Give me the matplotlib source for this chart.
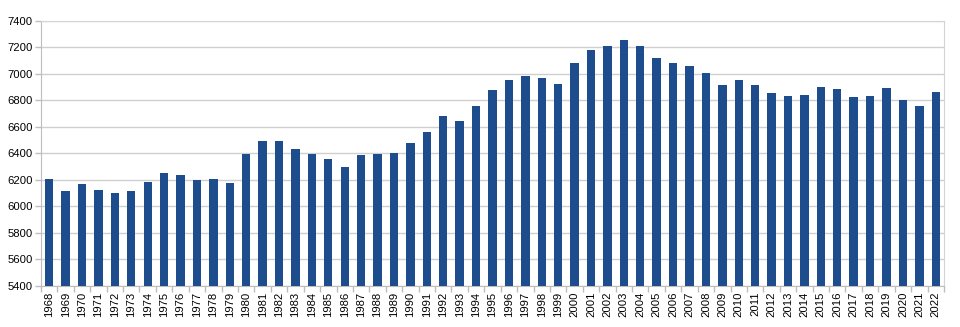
import matplotlib
matplotlib.use("Agg")
import matplotlib.pyplot as plt
import numpy as np

years = list(range(1968, 2023))
values = [
    6205, 6120, 6170, 6127, 6100, 6120, 6182, 6255, 6238, 6197,
    6205, 6177, 6396, 6494, 6492, 6436, 6396, 6361, 6298, 6391,
    6394, 6401, 6482, 6562, 6680, 6645, 6758, 6879, 6957, 6982,
    6967, 6922, 7080, 7181, 7209, 7257, 7214, 7121, 7083, 7060,
    7005, 6917, 6952, 6917, 6859, 6831, 6839, 6899, 6884, 6824,
    6831, 6892, 6806, 6756, 6867,
]
y_ticks = [5400, 5600, 5800, 6000, 6200, 6400, 6600, 6800, 7000, 7200, 7400]

plt.rcParams['font.family'] = ['Liberation Sans', 'DejaVu Sans']

fig = plt.figure(figsize=(9.6, 3.27), dpi=100)
ax = fig.add_axes([0.0427, 0.1254, 0.9406, 0.8104])

x = np.arange(len(years))
ax.bar(x, np.array(values) - 5400, bottom=5400, width=0.51, color='#1e4d8e', zorder=3)

ax.set_ylim(5400, 7400)
ax.set_xlim(-0.5, len(years) - 0.5)
ax.set_yticks(y_ticks)
ax.set_yticklabels([str(v) for v in y_ticks], fontsize=8.1)
ax.yaxis.grid(True, color='#cfcfcf', linewidth=1.0, zorder=0)

ax.set_xticks(x)
ax.set_xticklabels([str(y) for y in years], rotation=90, fontsize=8.1)
ax.tick_params(axis='x', which='major', length=0, pad=4)
ax.set_xticks(np.arange(-0.5, len(years), 1.0), minor=True)
ax.tick_params(axis='x', which='minor', length=4, color='#bdbdbd', width=1)
ax.tick_params(axis='y', length=4, color='#bdbdbd', width=1, pad=2)

for side in ['top', 'right']:
    ax.spines[side].set_color('#d4d4d4')
for side in ['left', 'bottom']:
    ax.spines[side].set_color('#bdbdbd')

fig.savefig('out.png', dpi=100, facecolor='white')
